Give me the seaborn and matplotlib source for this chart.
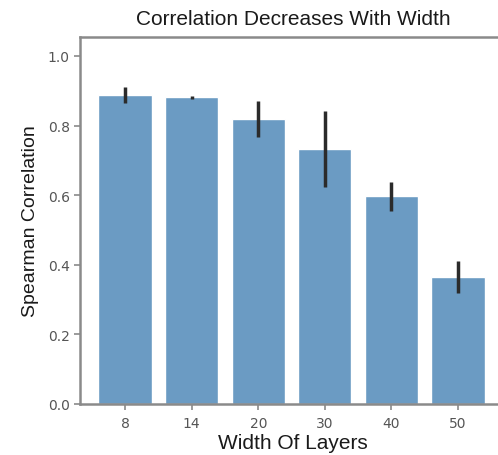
import matplotlib
matplotlib.use("Agg")
import matplotlib.pyplot as plt
import seaborn as sns
import pandas as pd

# bar heights and error bar ends
widths = ["8", "14", "20", "30", "40", "50"]
corr_mean = [0.888, 0.881, 0.819, 0.733, 0.599, 0.366]
err_low = [0.864, 0.877, 0.768, 0.623, 0.555, 0.319]
err_high = [0.912, 0.885, 0.872, 0.843, 0.639, 0.412]

df = pd.DataFrame({"width": widths, "corr": corr_mean})

sns.set_style("white")
fig = plt.figure(figsize=(4.98, 4.56), dpi=100)
ax = fig.add_axes([0.161, 0.112, 0.855, 0.805])

sns.barplot(data=df, x="width", y="corr", color="#6b9bc3", saturation=1,
            width=0.8, errorbar=None, ax=ax)
ax.vlines(range(len(widths)), err_low, err_high, color="#2b2b2b", lw=2.5)

ax.set_ylim(0, 1.055)
ax.set_xlim(-0.675, 5.72)
ax.set_yticks([0.0, 0.2, 0.4, 0.6, 0.8, 1.0])
ax.set_yticklabels(["0.0", "0.2", "0.4", "0.6", "0.8", "1.0"])

for s in ax.spines.values():
    s.set_color("#8a8a8a")
    s.set_linewidth(1.8)
# the original is cropped on the right, so no right spine shows
ax.spines["right"].set_visible(False)
ax.tick_params(axis="both", direction="out", length=4, width=1.2, color="#8a8a8a",
               labelcolor="#555555", labelsize=10, bottom=True, left=True)
ax.tick_params(axis="x", pad=5)

ax.set_title("Correlation Decreases With Width", family="Liberation Sans",
             fontsize=15, pad=9, color="#1a1a1a")
ax.set_xlabel("Width Of Layers", family="Liberation Sans", fontsize=15,
              labelpad=2, color="#1a1a1a")
ax.set_ylabel("Spearman Correlation", family="Liberation Sans", fontsize=14,
              labelpad=6, color="#1a1a1a")

fig.savefig("out.png", dpi=100)
